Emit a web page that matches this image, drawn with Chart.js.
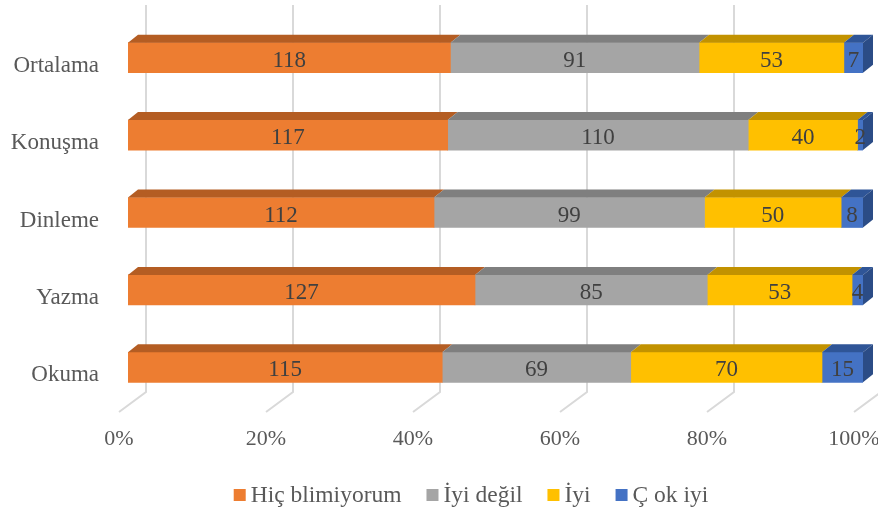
<!DOCTYPE html>
<html>
<head>
<meta charset="utf-8">
<script src="https://cdn.jsdelivr.net/npm/chart.js@4.4.0/dist/chart.umd.min.js"></script>
<style>
  body { margin: 0; background: #fff; }
</style>
</head>
<body>
<canvas id="grafico" width="878" height="512"></canvas>
<script>
var categorias = ['Ortalama', 'Konuşma', 'Dinleme', 'Yazma', 'Okuma'];
var seriesNombres = ['Hiç blimiyorum', 'İyi değil', 'İyi', 'Ç ok iyi'];
var hicBilmiyorum = [118, 117, 112, 127, 115];
var iyiDegil = [91, 110, 99, 85, 69];
var iyi = [53, 40, 50, 53, 70];
var cokIyi = [7, 2, 8, 4, 15];
var ticksX = ['0%', '20%', '40%', '60%', '80%', '100%'];

var colores = ['#ED7D31', '#A5A5A5', '#FFC000', '#4472C4'];
var coloresTapa = ['#B45D23', '#7F7F7F', '#C29200', '#2F5597'];
var colorLado = '#2B4C86';

var series = [hicBilmiyorum, iyiDegil, iyi, cokIyi];

// each row is shown as a share of its own total (100% stacked)
var totales = categorias.map(function (c, i) {
    return series.reduce(function (s, arr) { return s + arr[i]; }, 0);
});

var datasets = series.map(function (arr, k) {
    return {
        label: seriesNombres[k],
        cuentas: arr,
        data: arr.map(function (v, i) { return v / totales[i] * 100; }),
        backgroundColor: colores[k],
        borderWidth: 0,
        barThickness: 30
    };
});

var PROF_X = 10, PROF_Y = 8;

var efecto3d = {
    id: 'efecto3d',
    beforeDatasetsDraw: function (chart) {
        var ctx = chart.ctx;
        var ejeX = chart.scales.x;
        var area = chart.chartArea;
        ctx.save();
        ctx.strokeStyle = '#D9D9D9';
        ctx.lineWidth = 2;
        for (var v = 0; v <= 100; v += 20) {
            var xf = ejeX.getPixelForValue(v);
            ctx.beginPath();
            ctx.moveTo(xf + 18, 5);
            ctx.lineTo(xf + 18, area.bottom - 14);
            ctx.lineTo(xf - 9, area.bottom + 6);
            ctx.stroke();
        }
        ctx.restore();
    },
    afterDatasetsDraw: function (chart) {
        var ctx = chart.ctx;
        var n = chart.data.datasets.length;
        ctx.save();
        // top faces and the right-hand side of the last segment
        for (var d = 0; d < n; d++) {
            var meta = chart.getDatasetMeta(d);
            meta.data.forEach(function (bar) {
                var p = bar.getProps(['x', 'y', 'base', 'height'], true);
                var arriba = p.y - p.height / 2;
                var abajo = p.y + p.height / 2;
                ctx.fillStyle = coloresTapa[d];
                ctx.beginPath();
                ctx.moveTo(p.base, arriba);
                ctx.lineTo(p.base + PROF_X, arriba - PROF_Y);
                ctx.lineTo(p.x + PROF_X, arriba - PROF_Y);
                ctx.lineTo(p.x, arriba);
                ctx.closePath();
                ctx.fill();
                if (d === n - 1) {
                    ctx.fillStyle = colorLado;
                    ctx.beginPath();
                    ctx.moveTo(p.x, arriba);
                    ctx.lineTo(p.x + PROF_X, arriba - PROF_Y);
                    ctx.lineTo(p.x + PROF_X, abajo - PROF_Y);
                    ctx.lineTo(p.x, abajo);
                    ctx.closePath();
                    ctx.fill();
                }
            });
        }
        // value labels
        ctx.font = '23px "Liberation Serif"';
        ctx.fillStyle = '#404040';
        ctx.textAlign = 'center';
        ctx.textBaseline = 'middle';
        for (var k = 0; k < n; k++) {
            var ds = chart.data.datasets[k];
            chart.getDatasetMeta(k).data.forEach(function (bar, i) {
                var p = bar.getProps(['x', 'y', 'base'], true);
                ctx.fillText(String(ds.cuentas[i]), (p.x + p.base) / 2, p.y + 3);
            });
        }
        ctx.restore();
    },
    afterDraw: function (chart) {
        var ctx = chart.ctx;
        var dsList = chart.data.datasets;
        ctx.save();
        ctx.font = '23.5px "Liberation Serif"';
        ctx.textBaseline = 'middle';
        ctx.textAlign = 'left';
        var caja = 12, hueco = 5, separa = 25;
        var anchos = dsList.map(function (ds) { return caja + hueco + ctx.measureText(ds.label).width; });
        var total = anchos.reduce(function (a, b) { return a + b; }, 0) + separa * (dsList.length - 1);
        var x = 471 - total / 2;
        var y = 495;
        dsList.forEach(function (ds, i) {
            ctx.fillStyle = ds.backgroundColor;
            ctx.fillRect(x, y - caja / 2, caja, caja);
            ctx.fillStyle = '#595959';
            ctx.fillText(ds.label, x + caja + hueco, y + 1);
            x += anchos[i] + separa;
        });
        ctx.restore();
    }
};

Chart.defaults.font.family = '"Liberation Serif", "Times New Roman", serif';
Chart.defaults.color = '#595959';

var ctx = document.getElementById('grafico');
var grafico = new Chart(ctx, {
    type: 'bar',
    data: {
        labels: categorias,
        datasets: datasets
    },
    options: {
        indexAxis: 'y',
        responsive: false,
        animation: false,
        layout: { padding: { top: 19, right: 15, left: 0, bottom: 0 } },
        plugins: {
            legend: { display: false },
            tooltip: { enabled: false }
        },
        scales: {
            x: {
                stacked: true,
                min: 0,
                max: 100,
                grid: { display: false, drawTicks: false },
                border: { display: false },
                ticks: {
                    stepSize: 20,
                    padding: 20,
                    labelOffset: -9,
                    font: { size: 22 },
                    color: '#595959',
                    callback: function (v, i) { return ticksX[i]; }
                },
                afterFit: function (eje) {
                    eje.height = 106;
                    eje.paddingLeft = 0;
                    eje.paddingRight = 0;
                }
            },
            y: {
                stacked: true,
                grid: { display: false, drawTicks: false },
                border: { display: false },
                ticks: {
                    padding: 29,
                    labelOffset: 8,
                    font: { size: 23 },
                    color: '#595959'
                },
                afterFit: function (eje) {
                    eje.width = 128;
                    eje.paddingTop = 0;
                    eje.paddingBottom = 0;
                }
            }
        }
    },
    plugins: [efecto3d]
});
</script>
</body>
</html>
